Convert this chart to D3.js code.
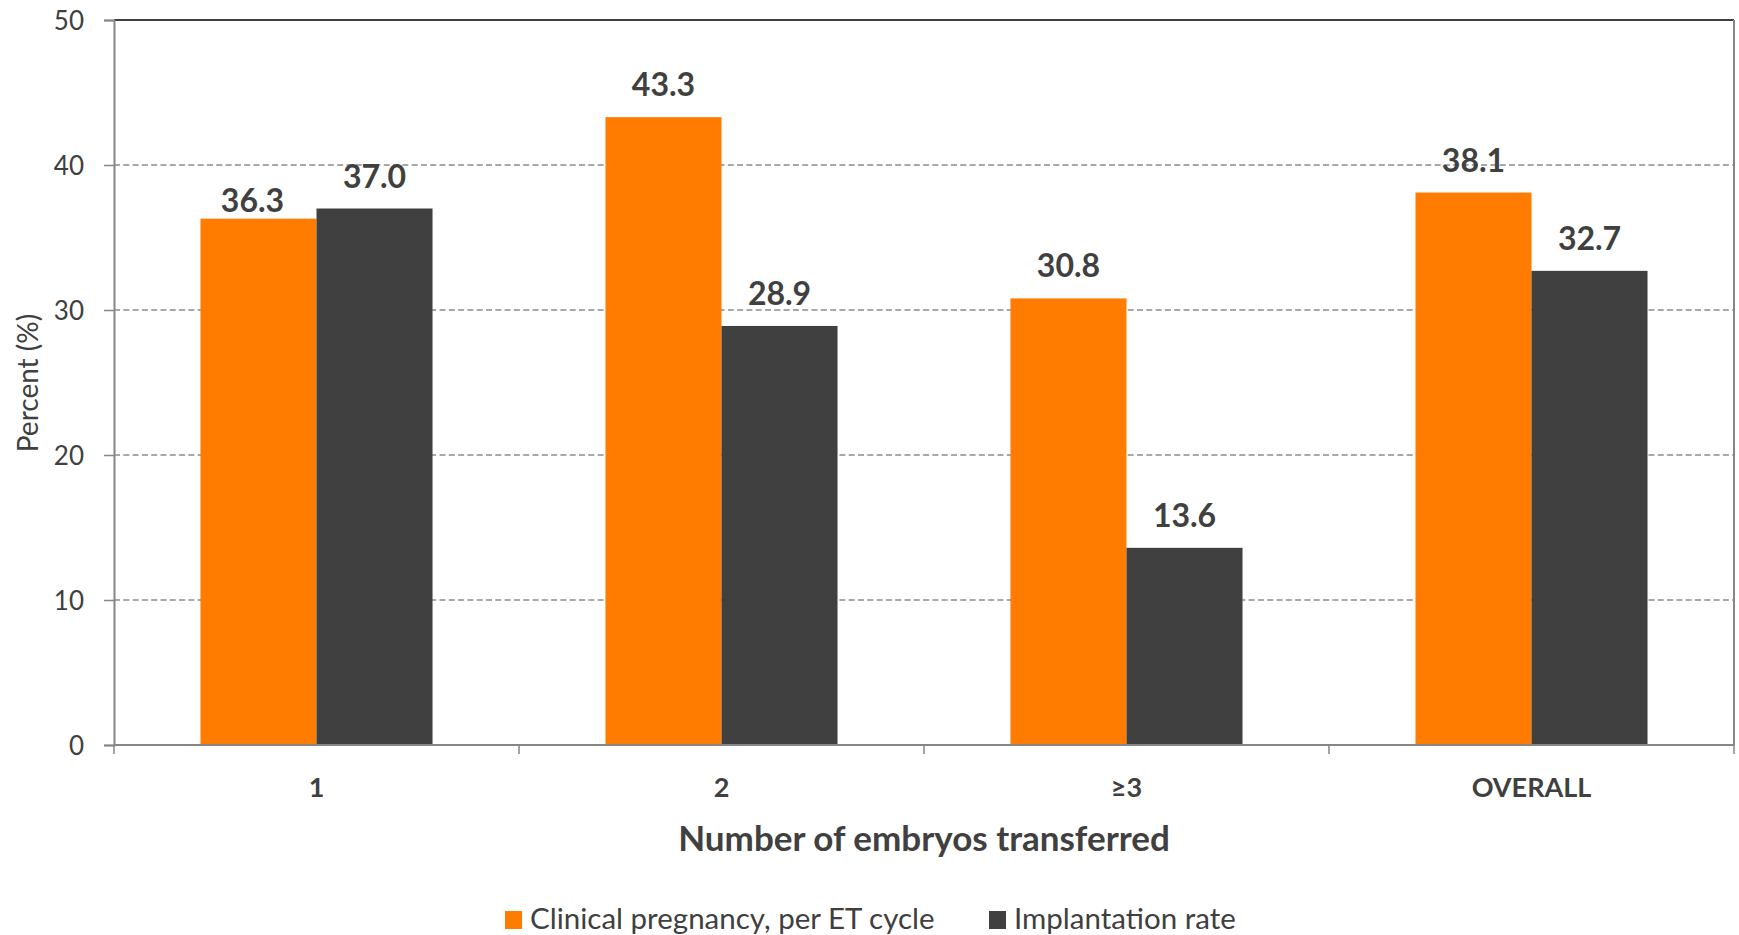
<!DOCTYPE html>
<html>
<head>
<meta charset="utf-8">
<script src="https://cdn.jsdelivr.net/npm/d3@7"></script>
<style>
  html, body { margin: 0; padding: 0; background: #ffffff; }
  svg { display: block; font-family: Lato, "Open Sans", sans-serif; }
</style>
</head>
<body>
<svg id="chart" width="1739" height="935"></svg>
<script>
// ---- data ----
const categories = ["1", "2", "\u22653", "OVERALL"];
const seriesNames = ["Clinical pregnancy, per ET cycle", "Implantation rate"];
const clinicalPregnancy = [36.3, 43.3, 30.8, 38.1];
const implantationRate = [37.0, 28.9, 13.6, 32.7];
const yTicks = [0, 10, 20, 30, 40, 50];
const seriesColors = ["#FF7C00", "#404040"];

const seriesValues = [clinicalPregnancy, implantationRate];

// ---- layout ----
const W = 1739, H = 935;
const margin = { left: 114, right: 5, top: 20, bottom: 190 };
const plotW = W - margin.left - margin.right;
const plotH = H - margin.top - margin.bottom;
const textColor = "#404040";
const axisColor = "#868686";

const svg = d3.select("#chart");
const g = svg.append("g").attr("transform", `translate(${margin.left},${margin.top})`);

const x0 = d3.scaleBand().domain(categories).range([0, plotW]).paddingInner(0).paddingOuter(0);
const groupW = x0.bandwidth() * 0.573;
const x1 = d3.scaleBand().domain(d3.range(seriesNames.length)).range([(x0.bandwidth() - groupW) / 2, (x0.bandwidth() + groupW) / 2]).padding(0);
const y = d3.scaleLinear().domain([0, 50]).range([plotH, 0]);

// gridlines
g.append("g").selectAll("line").data(yTicks.filter(t => t > 0 && t < 50)).join("line")
  .attr("x1", 0).attr("x2", plotW)
  .attr("y1", d => y(d)).attr("y2", d => y(d))
  .attr("stroke", "#8c8c8c").attr("stroke-width", 1.5).attr("stroke-dasharray", "6,3.3");

// top border & right border
g.append("line").attr("x1", 0).attr("x2", plotW).attr("y1", 0).attr("y2", 0)
  .attr("stroke", "#404040").attr("stroke-width", 2);
g.append("line").attr("x1", plotW).attr("x2", plotW).attr("y1", 0).attr("y2", plotH)
  .attr("stroke", axisColor).attr("stroke-width", 2);

// bars
const groups = g.append("g").selectAll("g").data(categories).join("g")
  .attr("transform", d => `translate(${x0(d)},0)`);
groups.selectAll("rect").data((c, i) => seriesValues.map((s, k) => ({ k, v: s[i] }))).join("rect")
  .attr("x", d => x1(d.k)).attr("width", x1.bandwidth())
  .attr("y", d => y(d.v)).attr("height", d => plotH - y(d.v))
  .attr("fill", d => seriesColors[d.k]);

// data labels
groups.selectAll("text").data((c, i) => seriesValues.map((s, k) => ({ k, v: s[i], i }))).join("text")
  .attr("x", d => x1(d.k) + x1.bandwidth() / 2 - (d.i === 0 && d.k === 0 ? 6 : 0))
  .attr("y", d => y(d.v) - (d.i === 0 && d.k === 0 ? 7 : 21))
  .attr("text-anchor", "middle")
  .attr("font-size", 32).attr("font-weight", "bold").attr("fill", textColor)
  .text(d => d.v.toFixed(1));

// y axis
const yAxis = g.append("g").call(d3.axisLeft(y).tickValues(yTicks).tickSize(10).tickPadding(20).tickFormat(d3.format("d")));
yAxis.select(".domain").attr("stroke", axisColor).attr("stroke-width", 2);
yAxis.selectAll(".tick line").attr("stroke", axisColor).attr("stroke-width", 1.5);
yAxis.selectAll(".tick text").attr("font-size", 26).attr("fill", textColor).attr("font-family", "Lato, sans-serif").attr("dy", "0.35em");

// x axis
const xAxisG = g.append("g").attr("transform", `translate(0,${plotH})`);
xAxisG.append("line").attr("x1", 0).attr("x2", plotW).attr("y1", 0).attr("y2", 0)
  .attr("stroke", axisColor).attr("stroke-width", 2);
const boundaries = categories.map(c => x0(c)).concat([plotW]);
xAxisG.selectAll("line.tk").data(boundaries).join("line").attr("class", "tk")
  .attr("x1", d => d).attr("x2", d => d).attr("y1", 0).attr("y2", 9)
  .attr("stroke", axisColor).attr("stroke-width", 1.5);
xAxisG.selectAll("text").data(categories).join("text")
  .attr("x", d => x0(d) + x0.bandwidth() / 2).attr("y", 52)
  .attr("text-anchor", "middle").attr("font-size", 27).attr("font-weight", "bold").attr("fill", textColor)
  .text(d => d);

// axis titles
svg.append("text").attr("x", 924).attr("y", 851).attr("text-anchor", "middle")
  .attr("font-size", 35).attr("font-weight", "bold").attr("fill", textColor)
  .text("Number of embryos transferred");
svg.append("text").attr("transform", "translate(38,383) rotate(-90)").attr("text-anchor", "middle")
  .attr("font-size", 28).attr("fill", textColor)
  .text("Percent (%)");

// legend
const legendX = [505, 989];
const legend = svg.append("g").selectAll("g").data(seriesNames).join("g")
  .attr("transform", (d, i) => `translate(${legendX[i]},911)`);
legend.append("rect").attr("width", 17).attr("height", 18).attr("fill", (d, i) => seriesColors[i]);
legend.append("text").attr("x", 25).attr("y", 18).attr("font-size", 29.5).attr("fill", textColor).text(d => d);
</script>
</body>
</html>
